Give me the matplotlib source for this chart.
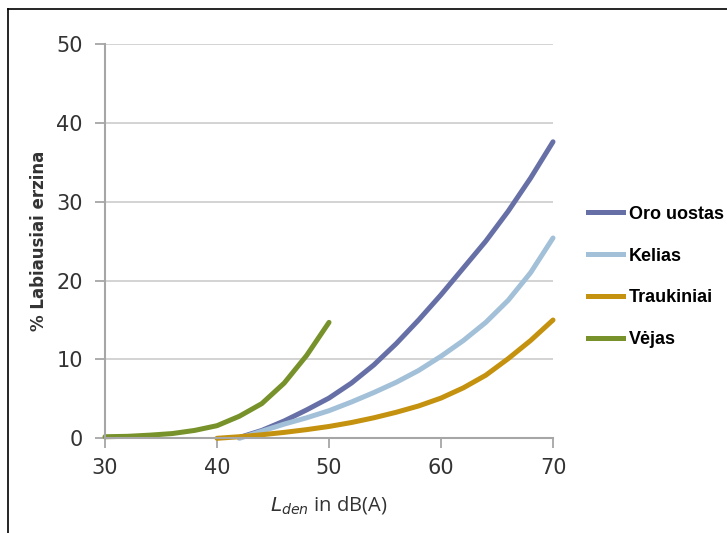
import matplotlib
matplotlib.use("Agg")
import matplotlib.pyplot as plt
from matplotlib.lines import Line2D

# values
oro_x = [42, 44, 46, 48, 50, 52, 54, 56, 58, 60, 62, 64, 66, 68, 70]
oro_y = [0.1, 1.0, 2.2, 3.6, 5.1, 7.0, 9.3, 12.0, 15.0, 18.2, 21.6, 25.0, 28.8, 33.0, 37.6]

kelias_x = [42, 44, 46, 48, 50, 52, 54, 56, 58, 60, 62, 64, 66, 68, 70]
kelias_y = [0, 0.9, 1.8, 2.6, 3.5, 4.6, 5.8, 7.1, 8.6, 10.4, 12.4, 14.7, 17.5, 21.0, 25.4]

trauk_x = [40, 42, 44, 46, 48, 50, 52, 54, 56, 58, 60, 62, 64, 66, 68, 70]
trauk_y = [0, 0.2, 0.45, 0.75, 1.1, 1.5, 2.0, 2.6, 3.3, 4.1, 5.1, 6.4, 8.0, 10.1, 12.4, 15.0]

vejas_x = [30, 32, 34, 36, 38, 40, 42, 44, 46, 48, 50]
vejas_y = [0.2, 0.25, 0.4, 0.6, 1.0, 1.6, 2.8, 4.4, 7.0, 10.5, 14.7]

labels = ["Oro uostas", "Kelias", "Traukiniai", "Vėjas"]
colors = ["#6670a6", "#a3c0d9", "#c4920e", "#77922a"]

xticks = [30, 40, 50, 60, 70]
yticks = [0, 10, 20, 30, 40, 50]

fig = plt.figure(figsize=(7.27, 5.33), dpi=100)
ax = fig.add_axes([105 / 727, 1 - 438.3 / 533, 448 / 727, 394.3 / 533])

series = [(oro_x, oro_y), (kelias_x, kelias_y), (trauk_x, trauk_y), (vejas_x, vejas_y)]
for (xs, ys), c in zip(series, colors):
    ax.plot(xs, ys, color=c, lw=3.6, solid_capstyle="round", solid_joinstyle="round",
            clip_on=False)

ax.set_xlim(30, 70)
ax.set_ylim(0, 50)
ax.set_xticks(xticks)
ax.set_yticks(yticks)
ax.grid(axis="y", color="#d0d0d0", lw=1.3)
ax.set_axisbelow(True)
for s in ["top", "right"]:
    ax.spines[s].set_visible(False)
for s in ["left", "bottom"]:
    ax.spines[s].set_color("#a6a6a6")
    ax.spines[s].set_linewidth(1.5)
ax.tick_params(axis="both", colors="#a6a6a6", labelcolor="#333333", labelsize=15,
               length=7, width=1.3, direction="out")
ax.tick_params(axis="x", pad=7)
ax.tick_params(axis="y", pad=9)

ax.set_xlabel("$L_{den}$ in dB(A)", fontsize=14.5, color="#333333", labelpad=12,
              fontfamily="Open Sans")
ax.set_ylabel("% Labiausiai erzina", fontsize=12, fontweight="bold", color="#333333")
ax.yaxis.set_label_coords(-0.128, 0.5)

handles = [Line2D([0], [0], color=c, lw=3.6) for c in colors]
fig.legend(handles, labels, loc="center left", bbox_to_anchor=(572 / 727, 1 - 277 / 533),
           frameon=False, prop={"family": "Liberation Sans", "weight": "bold", "size": 13},
           handlelength=1.95, labelspacing=1.38, handletextpad=0.3)

# partial frame around the figure (top and left only visible)
fig.add_artist(Line2D([8 / 727, 1], [1 - 9 / 533, 1 - 9 / 533], color="black", lw=1.2,
                      transform=fig.transFigure))
fig.add_artist(Line2D([8 / 727, 8 / 727], [0, 1 - 9 / 533], color="black", lw=1.2,
                      transform=fig.transFigure))

fig.savefig("out.png", dpi=100)
